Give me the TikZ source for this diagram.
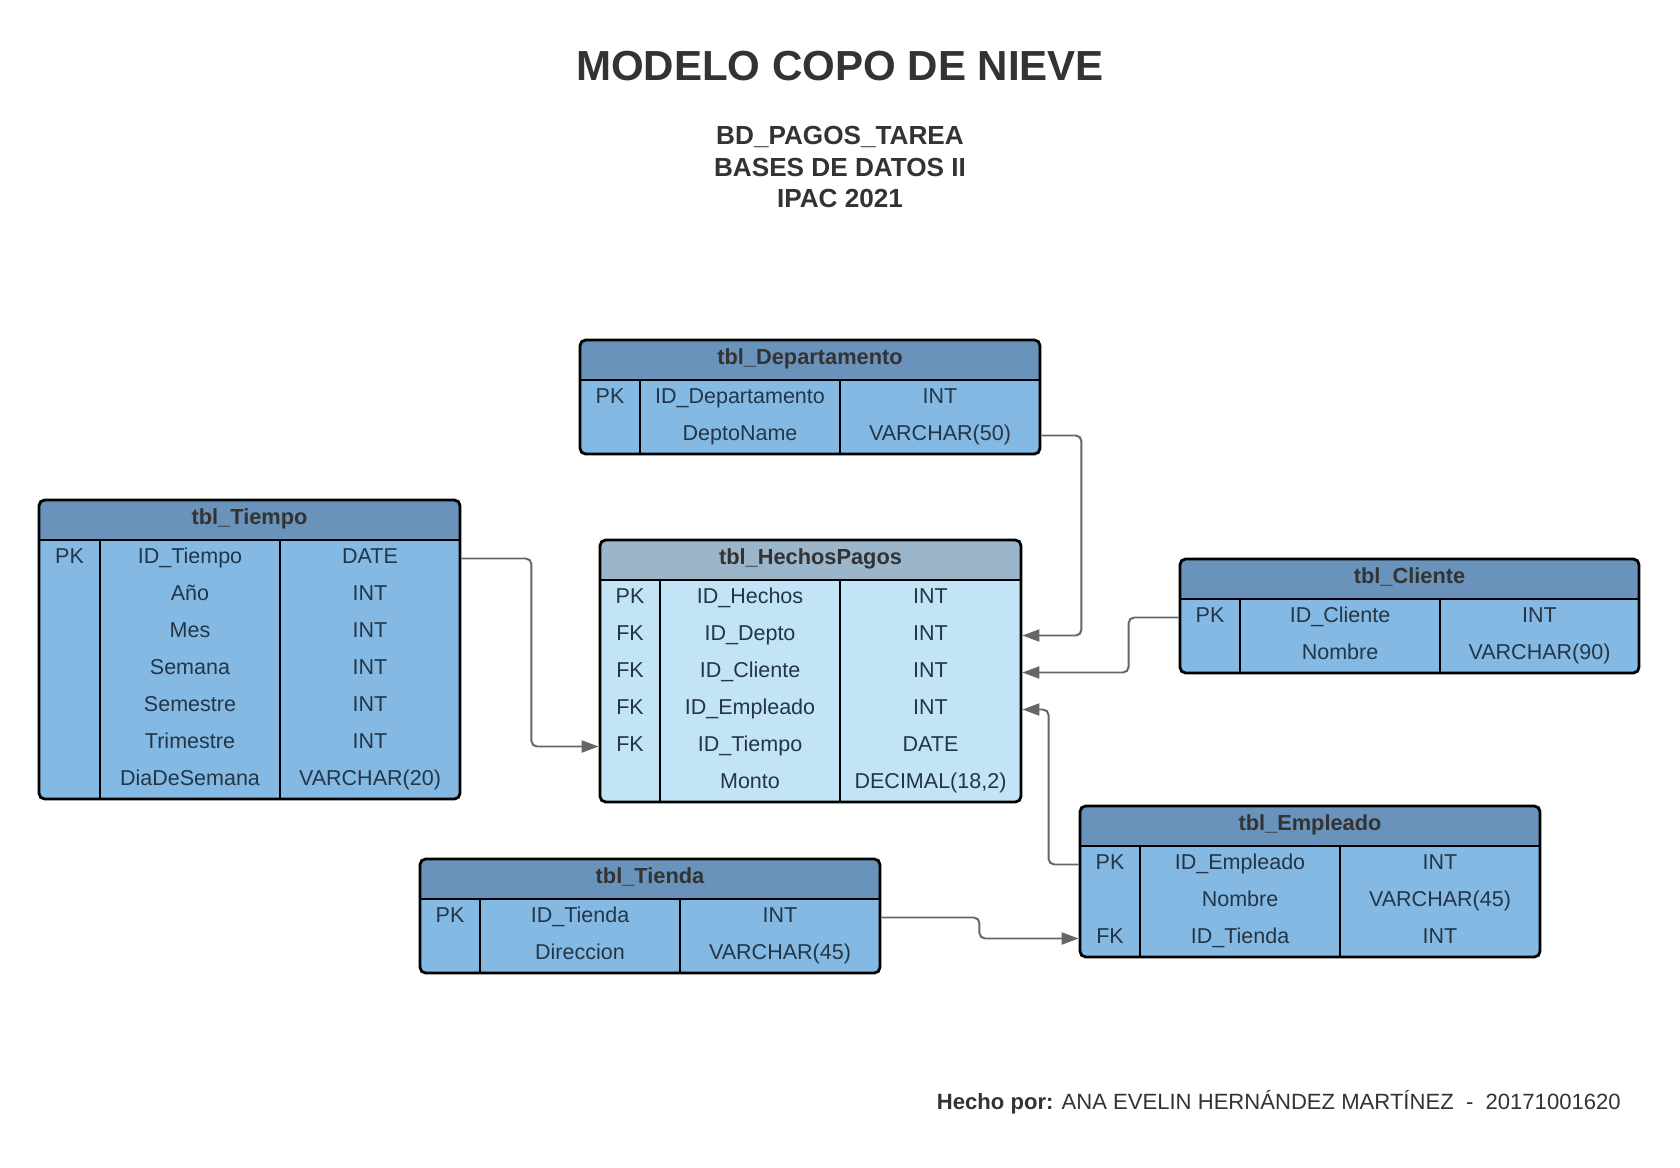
\documentclass[tikz,border=0pt]{standalone}
\usepackage{fontspec}
\setmainfont{Liberation Sans}
\usetikzlibrary{arrows.meta,fit}

\definecolor{cabecera}{HTML}{6993BA}
\definecolor{cuerpo}{HTML}{84B9E3}
\definecolor{cabhechos}{HTML}{9BB5CB}
\definecolor{cuerpohechos}{HTML}{C3E3F6}
\definecolor{textocelda}{HTML}{243646}
\definecolor{gristitulo}{HTML}{333333}
\definecolor{conector}{HTML}{666666}

\tikzset{
  tabla/.style={draw=black, line width=2pt, rounded corners=4pt, inner sep=0pt,
    path picture={
      \fill[#1, sharp corners] (path picture bounding box.north west) rectangle ([yshift=-1cm]path picture bounding box.north east);
      \draw[line width=2pt, sharp corners] ([yshift=-1cm]path picture bounding box.north west) -- ([yshift=-1cm]path picture bounding box.north east);
    }},
  division/.style={draw=black, line width=2pt},
  celda/.style={text=textocelda, font=\fontsize{15.3}{18}\selectfont, inner sep=0pt, text height=11pt, text depth=4pt},
  cabeza/.style={celda, text=gristitulo, font=\bfseries\fontsize{15.5}{18}\selectfont},
  rel/.style={draw=conector, line width=1.4pt, rounded corners=4pt, -{Triangle[length=12pt,width=8.5pt]}},
}

\begin{document}
\begin{tikzpicture}[x=0.025cm,y=-0.025cm]
  \path[use as bounding box, fill=white] (0,0) rectangle (1680,1168);

  % titulos
  \node[text=gristitulo, font=\bfseries\fontsize{29.9}{34}\selectfont, inner sep=0pt, text height=21.4pt, text depth=0pt] (titulo) at (840,65.5) {MODELO COPO DE NIEVE};
  \node[text=gristitulo, font=\bfseries\fontsize{18.6}{22.4}\selectfont, align=center, inner sep=0pt] (subtitulo) at (840,167) {BD\_PAGOS\_TAREA\\BASES DE DATOS II\\IPAC 2021};

  % tbl_Departamento
  \node[tabla=cabecera, fill=cuerpo, fit={(580,340) (1040,454)}] (depto) {};
  \draw[division] (640,380) -- (640,454) (840,380) -- (840,454);
  \node[cabeza] (depto-t) at (810,360) {tbl\_Departamento};
  \node[celda] (depto-pk) at (610,398.5) {PK};
  \foreach \campo/\tipo [count=\i] in {ID\_Departamento/INT, DeptoName/VARCHAR(50)} {
    \node[celda] (depto-c\i) at (740,361.5+37*\i) {\campo};
    \node[celda] (depto-d\i) at (940,361.5+37*\i) {\tipo};
  }

  % tbl_HechosPagos
  \node[tabla=cabhechos, fill=cuerpohechos, fit={(600,540) (1021,802)}] (hechos) {};
  \draw[division] (660,580) -- (660,802) (840,580) -- (840,802);
  \node[cabeza] (hechos-t) at (810.5,560) {tbl\_HechosPagos};
  \foreach \llave [count=\i] in {PK, FK, FK, FK, FK}
    \node[celda] (hechos-k\i) at (630,561.5+37*\i) {\llave};
  \foreach \campo/\tipo [count=\i] in {ID\_Hechos/INT, ID\_Depto/INT, ID\_Cliente/INT, ID\_Empleado/INT, ID\_Tiempo/DATE, Monto/{DECIMAL(18,2)}} {
    \node[celda] (hechos-c\i) at (750,561.5+37*\i) {\campo};
    \node[celda] (hechos-d\i) at (930.5,561.5+37*\i) {\tipo};
  }

  % tbl_Tiempo
  \node[tabla=cabecera, fill=cuerpo, fit={(39,500) (460,799)}] (tiempo) {};
  \draw[division] (100,540) -- (100,799) (280,540) -- (280,799);
  \node[cabeza] (tiempo-t) at (249.5,520) {tbl\_Tiempo};
  \node[celda] (tiempo-pk) at (69.5,558.5) {PK};
  \foreach \campo/\tipo [count=\i] in {ID\_Tiempo/DATE, Año/INT, Mes/INT, Semana/INT, Semestre/INT, Trimestre/INT, DiaDeSemana/VARCHAR(20)} {
    \node[celda] (tiempo-c\i) at (190,521.5+37*\i) {\campo};
    \node[celda] (tiempo-d\i) at (370,521.5+37*\i) {\tipo};
  }

  % tbl_Cliente
  \node[tabla=cabecera, fill=cuerpo, fit={(1180,559) (1639,673)}] (cliente) {};
  \draw[division] (1240,599) -- (1240,673) (1440,599) -- (1440,673);
  \node[cabeza] (cliente-t) at (1409.5,579) {tbl\_Cliente};
  \node[celda] (cliente-pk) at (1210,617.5) {PK};
  \foreach \campo/\tipo [count=\i] in {ID\_Cliente/INT, Nombre/VARCHAR(90)} {
    \node[celda] (cliente-c\i) at (1340,580.5+37*\i) {\campo};
    \node[celda] (cliente-d\i) at (1539.5,580.5+37*\i) {\tipo};
  }

  % tbl_Empleado
  \node[tabla=cabecera, fill=cuerpo, fit={(1080,806) (1540,957)}] (empleado) {};
  \draw[division] (1140,846) -- (1140,957) (1340,846) -- (1340,957);
  \node[cabeza] (empleado-t) at (1310,826) {tbl\_Empleado};
  \node[celda] (empleado-pk) at (1110,864.5) {PK};
  \node[celda] (empleado-fk) at (1110,938.5) {FK};
  \foreach \campo/\tipo [count=\i] in {ID\_Empleado/INT, Nombre/VARCHAR(45), ID\_Tienda/INT} {
    \node[celda] (empleado-c\i) at (1240,827.5+37*\i) {\campo};
    \node[celda] (empleado-d\i) at (1440,827.5+37*\i) {\tipo};
  }

  % tbl_Tienda
  \node[tabla=cabecera, fill=cuerpo, fit={(420,859) (880,973)}] (tienda) {};
  \draw[division] (480,899) -- (480,973) (680,899) -- (680,973);
  \node[cabeza] (tienda-t) at (650,879) {tbl\_Tienda};
  \node[celda] (tienda-pk) at (450,917.5) {PK};
  \foreach \campo/\tipo [count=\i] in {ID\_Tienda/INT, Direccion/VARCHAR(45)} {
    \node[celda] (tienda-c\i) at (580,880.5+37*\i) {\campo};
    \node[celda] (tienda-d\i) at (780,880.5+37*\i) {\tipo};
  }

  % relaciones
  \draw[rel] (depto.east |- depto-c2) -- ++(40,0) |- (hechos.east |- hechos-c2);
  \draw[rel] (cliente.west |- cliente-c1) -- ++(-50,0) |- (hechos.east |- hechos-c3);
  \draw[rel] (empleado.west |- empleado-c1) -- ++(-30,0) |- (hechos.east |- hechos-c4);
  \draw[rel] (tiempo.east |- tiempo-c1) -- ++(70,0) |- (hechos.west |- hechos-c5);
  \draw[rel] (tienda.east |- tienda-c1) -- ++(98,0) |- (empleado.west |- empleado-c3);

  \node[celda, text=gristitulo, font=\fontsize{15.7}{18}\selectfont, text depth=0pt, anchor=east] (autor) at (1621,1102) {\textbf{Hecho por:} ANA EVELIN HERNÁNDEZ MARTÍNEZ\ \ -\ \ 20171001620};
\end{tikzpicture}
\end{document}
